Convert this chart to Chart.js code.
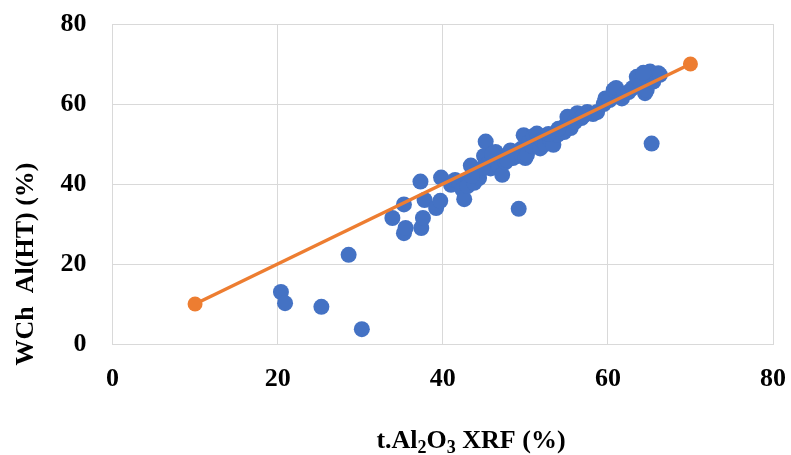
<!DOCTYPE html>
<html>
<head>
<meta charset="utf-8">
<script src="https://cdn.jsdelivr.net/npm/chart.js@4.4.1/dist/chart.umd.min.js"></script>
<style>
  html, body { margin: 0; padding: 0; background: #ffffff; }
  #wrap { width: 791px; height: 455px; position: relative; }
</style>
</head>
<body>
<div id="wrap"><canvas id="c" width="791" height="455"></canvas></div>
<script>
// ---- data ----
const xTickValues = [0, 20, 40, 60, 80];
const yTickValues = [0, 20, 40, 60, 80];
const xTitle = ["t.Al", "2", "O", "3", " XRF (%)"];
const yTitle = "WCh  Al(HT) (%)";

const sampleX = [20.4, 20.9, 25.3, 28.6, 30.2, 49.2, 65.3,
  33.9, 35.3, 35.5, 35.3, 37.3, 37.4, 37.6, 37.8, 39.2, 39.7, 39.8,
  41.0, 41.5, 42.0, 42.4, 42.6, 43.0, 43.4, 43.8, 44.0, 44.4, 44.6, 45.0, 45.2, 45.5, 45.8, 46.2, 46.4, 46.8,
  47.0, 47.2, 47.6, 48.0, 48.2, 48.5, 49.0, 49.5, 49.8, 50.0, 50.2, 50.5, 50.8, 51.0, 51.4, 51.8, 52.0, 52.4,
  53.0, 53.4, 53.9, 54.5, 54.7, 55.0, 55.1, 55.5, 56.0, 56.3, 56.8, 57.5, 58.2, 58.7, 59.5, 59.7, 60.2, 60.7,
  61.0, 61.7, 62.0, 62.5, 63.0, 63.5, 64.0, 64.5, 64.7, 65.0, 65.1, 65.5, 65.8, 66.1, 66.3, 64.3,
  46.0, 47.8, 52.8, 54.0, 57.0, 44.8, 43.5];
const sampleY = [13.0, 10.2, 9.3, 22.3, 3.7, 33.8, 50.1,
  31.5, 27.7, 29.0, 34.9, 40.6, 29.0, 31.5, 36.0, 34.0, 35.8, 41.6,
  39.8, 41.0, 40.5, 38.6, 36.2, 39.5, 44.6, 40.3, 42.5, 41.5, 43.5, 47.0, 50.6, 45.0, 43.9, 46.0, 48.0, 44.5,
  46.5, 42.3, 45.5, 47.5, 48.4, 46.5, 47.0, 48.8, 52.2, 46.5, 47.3, 50.5, 49.5, 52.0, 52.6, 48.9, 51.0, 50.0,
  51.0, 49.8, 52.3, 54.0, 53.0, 55.0, 56.8, 54.0, 55.5, 57.7, 56.5, 58.0, 57.5, 58.0, 60.0, 61.4, 61.0, 63.5,
  64.0, 61.4, 62.5, 63.0, 64.0, 66.8, 65.0, 62.7, 63.5, 67.5, 68.1, 65.6, 67.2, 67.7, 67.3, 67.8,
  47.5, 46.0, 52.5, 53.8, 57.0, 44.0, 42.0];
const trendX = [10, 70];
const trendY = [10, 70];

// ---- build ----
const scatterPoints = sampleX.map((x, i) => ({ x: x, y: sampleY[i] }));
const trendPoints = trendX.map((x, i) => ({ x: x, y: trendY[i] }));

const FONT = '"Liberation Serif", "Times New Roman", serif';

const titlePlugin = {
  id: 'axisTitles',
  afterDraw(chart) {
    const ctx = chart.ctx;
    ctx.save();
    ctx.fillStyle = '#000000';
    ctx.font = 'bold 26px ' + FONT;
    ctx.translate(26, 264);
    ctx.rotate(-Math.PI / 2);
    ctx.textAlign = 'center';
    ctx.textBaseline = 'middle';
    ctx.fillText(yTitle, 0, 0);
    ctx.restore();

    ctx.save();
    ctx.fillStyle = '#000000';
    ctx.textBaseline = 'alphabetic';
    ctx.textAlign = 'left';
    const big = 'bold 26px ' + FONT;
    const small = 'bold 18px ' + FONT;
    const parts = xTitle.map((t, i) => ({ t: t, sub: i === 1 || i === 3 }));
    let total = 0;
    parts.forEach(p => { ctx.font = p.sub ? small : big; p.w = ctx.measureText(p.t).width; total += p.w; });
    let x = 471 - total / 2;
    const base = 448;
    parts.forEach(p => {
      ctx.font = p.sub ? small : big;
      ctx.fillText(p.t, x, p.sub ? base + 5 : base);
      x += p.w;
    });
    ctx.restore();
  }
};

new Chart(document.getElementById('c'), {
  type: 'scatter',
  data: {
    datasets: [
      {
        label: 'samples',
        data: scatterPoints,
        backgroundColor: '#4472C4',
        borderColor: '#4472C4',
        borderWidth: 0,
        pointRadius: 8,
        pointHoverRadius: 8,
        order: 2
      },
      {
        label: 'trend',
        type: 'line',
        data: trendPoints,
        borderColor: '#ED7D31',
        backgroundColor: '#ED7D31',
        borderWidth: 3.5,
        pointRadius: 7.5,
        pointBorderWidth: 0,
        pointBackgroundColor: '#ED7D31',
        showLine: true,
        fill: false,
        order: 1
      }
    ]
  },
  options: {
    responsive: false,
    animation: false,
    layout: { autoPadding: false, padding: { top: 24, right: 18, left: 0, bottom: 0 } },
    plugins: { legend: { display: false }, tooltip: { enabled: false }, title: { display: false } },
    scales: {
      x: {
        type: 'linear',
        min: 0, max: 80,
        afterBuildTicks(s) { s.ticks = xTickValues.map(v => ({ value: v })); },
        afterFit(s) { s.height = 111; s.paddingLeft = 0; s.paddingRight = 0; },
        grid: { color: '#d9d9d9', lineWidth: 1, drawTicks: false },
        border: { color: '#d9d9d9', width: 1 },
        ticks: { color: '#000000', font: { family: FONT, size: 26, weight: 'bold' }, padding: 20, maxRotation: 0 }
      },
      y: {
        type: 'linear',
        min: 0, max: 80,
        afterBuildTicks(s) { s.ticks = yTickValues.map(v => ({ value: v })); },
        afterFit(s) { s.width = 112.5; s.paddingTop = 0; s.paddingBottom = 0; },
        grid: { color: '#d9d9d9', lineWidth: 1, drawTicks: false },
        border: { color: '#d9d9d9', width: 1 },
        ticks: { color: '#000000', font: { family: FONT, size: 26, weight: 'bold' }, padding: 26 }
      }
    }
  },
  plugins: [titlePlugin]
});
</script>
</body>
</html>
